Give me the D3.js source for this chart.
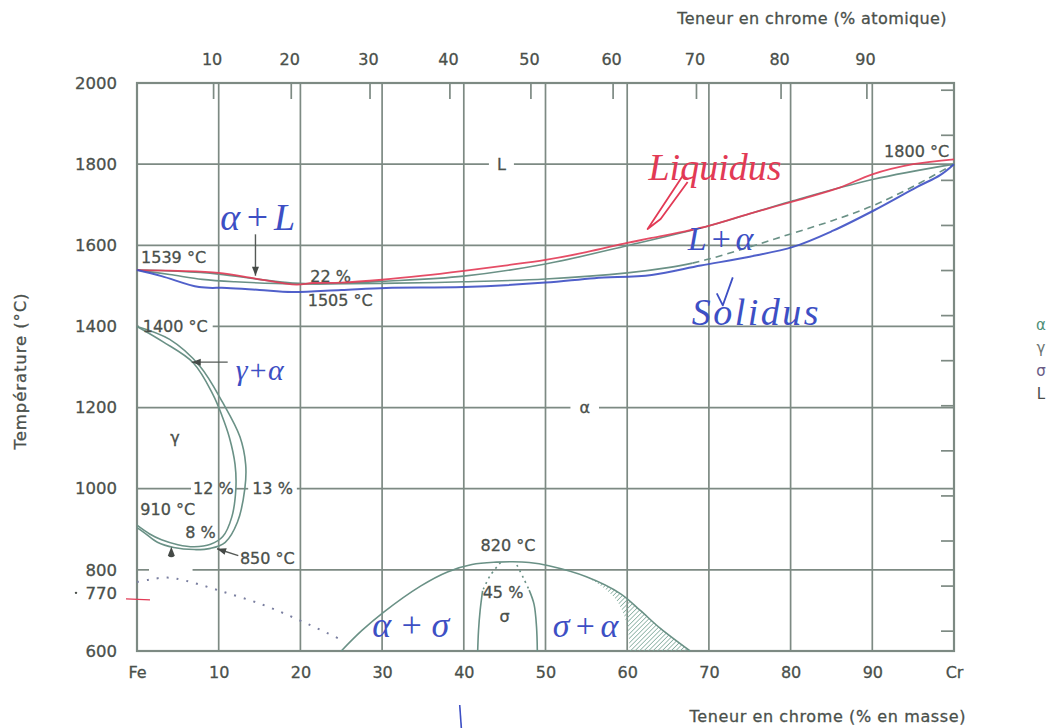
<!DOCTYPE html>
<html>
<head>
<meta charset="utf-8">
<script src="https://cdn.jsdelivr.net/npm/d3@7"></script>
<style>
  html, body { margin: 0; padding: 0; background: #ffffff; }
  svg { display: block; }
</style>
</head>
<body>
<svg id="chart" width="1055" height="728"></svg>
<script>
// ---- Axes ----------------------------------------------------------------
const massTicks = [0, 10, 20, 30, 40, 50, 60, 70, 80, 90, 100];
const massTickLabels = ["Fe", "10", "20", "30", "40", "50", "60", "70", "80", "90", "Cr"];
const atomicTicks = [10, 20, 30, 40, 50, 60, 70, 80, 90];
const tempTicks = [600, 800, 1000, 1200, 1400, 1600, 1800, 2000];
const tempGrid = [800, 1000, 1200, 1400, 1600, 1800];
const curieTick = 770;
const fahrenheitTicks = [1200, 1400, 1600, 1800, 2000, 2200, 2400, 2600, 2800, 3000, 3200, 3400, 3600];
const molarMass = { Fe: 55.85, Cr: 52.0 };

// ---- Phase boundaries (% Cr by mass, °C) -----------------------------------
const liquidus = [[0,1539],[5,1536],[10,1529],[15,1516],[19,1507],[22,1505],[26,1507],[30,1511],[40,1524],[50,1554],[60,1599],[70,1648],[80,1708],[90,1762],[100,1800]];
const solidus = [[0,1539],[4,1528],[8,1516],[12,1510],[17,1506],[22,1505],[30,1506],[40,1510],[50,1517],[60,1532],[65,1545],[68,1556]];
const solidusDashed = [[68,1556],[70,1566],[75,1596],[80,1628],[85,1660],[90,1697],[95,1745],[100,1800]];
const gammaInner = [[0,1400],[3.2,1362],[6.9,1310],[9.3,1232],[10.4,1180],[11.3,1127],[12,1060],[12.1,1000],[11.6,930],[10.5,882],[9,863],[7,857],[5,862],[3,874],[1.5,889],[0,910]];
const gammaOuter = [[0,1400],[4,1368],[7.7,1302],[10.5,1212],[12.6,1128],[13.3,1060],[13.2,1000],[12.3,918],[10.8,868],[9,853],[7,850],[4.5,855],[2.5,868],[1,890],[0,904]];
const sigmaDome = [[25,600],[27.5,650],[30.2,696],[34.7,760],[38,795],[41,813],[44,819],[46,820],[48,818],[50.4,810],[55,783],[59.2,741],[61.6,700],[64.1,655],[67.7,600]];
const hatchInner = [[55,783],[57,758],[58.5,730],[59.5,695],[60.1,652],[60.3,600]];
const sigmaLeftDotted = [[44.5,818],[43.2,785],[42.3,748]];
const sigmaLeftSolid = [[42.3,748],[42,700],[41.8,650],[41.7,600]];
const sigmaRightDotted = [[46.5,812],[47.3,780],[48,750]];
const sigmaRightSolid = [[48,750],[48.6,715],[48.9,660],[49,600]];
const curieLine = [[0,770],[1.5,776],[3.7,781],[6,773],[10.2,748],[15.4,714],[20.3,672],[25.4,624]];

// ---- Pen tracings added over the print ---------------------------------------
const liquidusInk = [[0,1539],[5,1537],[10,1532],[14.5,1518],[19.5,1503],[21.5,1507],[25,1508],[30,1515],[35,1525],[40,1537],[45,1550],[50,1564],[55,1583],[60,1606],[63,1618],[70,1648],[75,1678],[81,1712],[86,1742],[90,1775],[95,1800],[100,1812]];
const solidusInk = [[0,1539],[3,1524],[7.6,1497],[11,1495],[15,1490],[19,1485],[25,1490],[30.5,1495],[40,1497],[50,1508],[56,1519],[63,1527],[69,1550],[75,1572],[80.3,1596],[85.2,1636],[90.3,1687],[95.5,1744],[98.3,1773],[100,1800]];

// ---- Scales & styles ---------------------------------------------------------
const x = d3.scaleLinear().domain([0, 100]).range([137, 954]);
const y = d3.scaleLinear().domain([600, 2000]).range([651, 83]);
const TXT = "#4a504b", GRID = "#7d8a83", CURVE = "#6a9186", BLUE = "#3d4fc4", RED = "#e23a55";
const FONT = "'DejaVu Sans', 'Liberation Sans', sans-serif";
const INK_FONT = "'Liberation Serif', 'DejaVu Serif', serif";

const svg = d3.select("#chart");
const smooth = d3.line().x(d => x(d[0])).y(d => y(d[1])).curve(d3.curveCatmullRom.alpha(0.5));
const atomicToMass = a => 100 * a * molarMass.Cr / (a * molarMass.Cr + (100 - a) * molarMass.Fe);
const fToC = f => (f - 32) * 5 / 9;

function printed(sel, size) {
  return sel.attr("font-family", FONT).attr("font-size", size || 16).attr("fill", TXT)
    .attr("stroke", TXT).attr("stroke-width", 0.3);
}

const defs = svg.append("defs");
const hatch = defs.append("pattern").attr("id", "hatch").attr("patternUnits", "userSpaceOnUse")
  .attr("width", 3.2).attr("height", 3.2).attr("patternTransform", "rotate(45)");
hatch.append("line").attr("x1", 0).attr("y1", 0).attr("x2", 0).attr("y2", 3.2)
  .attr("stroke", "#79a596").attr("stroke-width", 1.4);

const gGrid = svg.append("g");
const gCurves = svg.append("g");
const gText = printed(svg.append("g"));
const gInk = svg.append("g");

// ---- Printed labels inside the diagram ---------------------------------------
const gapMap = {};
function addGap(t, a, b) { (gapMap[t] = gapMap[t] || []).push([a, b]); }
function label(txt, m, t, anchor, gridValue, pad) {
  const el = gText.append("text").attr("x", x(m)).attr("y", y(t))
    .attr("text-anchor", anchor || "start").attr("dominant-baseline", "central").text(txt);
  if (gridValue !== undefined) {
    const b = el.node().getBBox();
    addGap(gridValue, b.x - pad, b.x + b.width + pad);
  }
  return el;
}
label("1539 °C", 0.5, 1569);
const l1400 = label("1400 °C", 0.7, 1400);
{ const b = l1400.node().getBBox(); addGap(1400, x(0) + 2, b.x + b.width + 5); }
label("22 %", 21.2, 1524);
label("1505 °C", 20.9, 1463);
label("1800 °C", 99.4, 1830, "end");
label("L", 44.6, 1800, "middle", 1800, 8);
label("α", 54.8, 1200, "middle", 1200, 9);
label("γ", 4.65, 1127, "middle");
label("12 %", 6.85, 1000, "start", 1000, 2);
label("13 %", 14.1, 1000, "start", 1000, 4);
label("910 °C", 0.4, 948);
label("8 %", 5.9, 893);
label("850 °C", 12.6, 829);
label("820 °C", 45.4, 861, "middle");
label("45 %", 44.8, 745, "middle");
label("σ", 45, 684, "middle");
addGap(800, x(0) + 12, x(6.8));

// ---- Grid --------------------------------------------------------------------
massTicks.slice(1, -1).forEach(m => {
  gGrid.append("line").attr("x1", x(m)).attr("x2", x(m)).attr("y1", y(2000)).attr("y2", y(600))
    .attr("stroke", GRID).attr("stroke-width", 1.7);
});
tempGrid.forEach(t => {
  const gaps = (gapMap[t] || []).sort((a, b) => a[0] - b[0]);
  let start = x(0);
  const segs = [];
  gaps.forEach(([a, b]) => { if (a > start) segs.push([start, a]); start = Math.max(start, b); });
  if (start < x(100)) segs.push([start, x(100)]);
  segs.forEach(([a, b]) => gGrid.append("line").attr("x1", a).attr("x2", b).attr("y1", y(t)).attr("y2", y(t))
    .attr("stroke", GRID).attr("stroke-width", 1.7));
});
gGrid.append("rect").attr("x", x(0)).attr("y", y(2000)).attr("width", x(100) - x(0)).attr("height", y(600) - y(2000))
  .attr("fill", "none").attr("stroke", GRID).attr("stroke-width", 2.2);
// atomic-% ticks along the top edge
atomicTicks.forEach(a => {
  gGrid.append("line").attr("x1", x(atomicToMass(a))).attr("x2", x(atomicToMass(a)))
    .attr("y1", y(2000)).attr("y2", y(2000) + 16).attr("stroke", GRID).attr("stroke-width", 1.7);
});
// Fahrenheit ticks along the right edge
fahrenheitTicks.forEach(f => {
  gGrid.append("line").attr("x1", x(100) - 13).attr("x2", x(100)).attr("y1", y(fToC(f))).attr("y2", y(fToC(f)))
    .attr("stroke", GRID).attr("stroke-width", 1.7);
});

// ---- Axis labels ---------------------------------------------------------------
const axisBottom = d3.axisBottom(x).tickValues(massTicks).tickFormat((d, i) => massTickLabels[i]).tickSize(0).tickPadding(16);
svg.append("g").attr("transform", `translate(0,${y(600)})`).call(axisBottom)
  .call(g => g.select(".domain").remove())
  .call(g => printed(g.selectAll("text")));

const axisTop = d3.axisTop(d3.scaleLinear().domain([0, 100]).range([x(0), x(100)]))
  .tickValues(atomicTicks.map(atomicToMass)).tickFormat((d, i) => atomicTicks[i]).tickSize(0).tickPadding(18);
svg.append("g").attr("transform", `translate(${-2},${y(2000)})`).call(axisTop)
  .call(g => g.select(".domain").remove())
  .call(g => printed(g.selectAll("text")));

const axisLeft = d3.axisLeft(y).tickValues(tempTicks).tickFormat(d3.format("d")).tickSize(0).tickPadding(20);
svg.append("g").attr("transform", `translate(${x(0)},0)`).call(axisLeft)
  .call(g => g.select(".domain").remove())
  .call(g => printed(g.selectAll("text"), 16.5));
// Curie point label sits just under the 800 label
printed(svg.append("text"), 16.5).attr("x", x(0) - 20).attr("y", y(800) + 24).attr("text-anchor", "end")
  .attr("dominant-baseline", "central").text(curieTick);
svg.append("circle").attr("cx", x(0) - 61).attr("cy", y(800) + 23).attr("r", 1.2).attr("fill", TXT);

printed(svg.append("text")).attr("x", 947).attr("y", 18).attr("text-anchor", "end").attr("dominant-baseline", "central")
  .attr("letter-spacing", 0.4).text("Teneur en chrome (% atomique)");
printed(svg.append("text")).attr("x", 966).attr("y", 716).attr("text-anchor", "end").attr("dominant-baseline", "central")
  .attr("letter-spacing", 0.6).text("Teneur en chrome (% en masse)");
printed(svg.append("text"), 16.5).attr("transform", `translate(20,${(y(2000) + y(600)) / 2 + 4}) rotate(-90)`)
  .attr("text-anchor", "middle").attr("dominant-baseline", "central").attr("letter-spacing", 0.9)
  .text("Température (°C)");

// phase key on the right margin
[["α", "#4f8f78"], ["γ", "#6b7471"], ["σ", "#6a5c86"], ["L", "#4a4d4b"]].forEach(([s, c], i) => {
  svg.append("text").attr("x", 1041).attr("y", 325 + i * 23).attr("text-anchor", "middle")
    .attr("dominant-baseline", "central").attr("font-family", FONT).attr("font-size", 15).attr("fill", c).text(s);
});

// ---- Printed curves ---------------------------------------------------------------
const domePart = sigmaDome.filter(d => d[0] >= 55);
const hatchPath = smooth(domePart) + "L" + smooth(hatchInner.slice().reverse()).slice(1) + "Z";
gCurves.append("path").attr("d", hatchPath).attr("fill", "url(#hatch)").attr("stroke", "none");

function curve(data, opts) {
  return gCurves.append("path").attr("d", smooth(data)).attr("fill", "none")
    .attr("stroke", opts.color || CURVE).attr("stroke-width", opts.width || 1.6)
    .attr("stroke-dasharray", opts.dash || null).attr("stroke-linecap", opts.cap || "butt");
}
curve(liquidus, {});
curve(solidus, {});
curve(solidusDashed, { dash: "7,5" });
curve(gammaInner, {});
curve(gammaOuter, {});
curve(sigmaDome, {});
curve(sigmaLeftDotted, { dash: "2,4" });
curve(sigmaLeftSolid, {});
curve(sigmaRightDotted, { dash: "2,4" });
curve(sigmaRightSolid, {});
curve(curieLine, { color: "#7a7fa0", width: 2, dash: "2,8" });

// printed pointer arrows
function arrow(x1, y1, x2, y2) {
  gCurves.append("line").attr("x1", x1).attr("y1", y1).attr("x2", x2).attr("y2", y2)
    .attr("stroke", "#555a57").attr("stroke-width", 1.4);
  const ang = Math.atan2(y2 - y1, x2 - x1), L = 9, w = 3.5;
  const bx = x2 - L * Math.cos(ang), by = y2 - L * Math.sin(ang);
  gCurves.append("path").attr("fill", "#454a47")
    .attr("d", `M${x2},${y2}L${bx - w * Math.sin(ang)},${by + w * Math.cos(ang)}L${bx + w * Math.sin(ang)},${by - w * Math.cos(ang)}Z`);
}
arrow(x(14.5), y(1627), x(14.5), y(1525));   // α + L
arrow(x(11.1), y(1312), x(6.7), y(1312));    // γ + α
arrow(x(12.4), y(835), x(9.8), y(852));      // 850 °C
// small marker under the 910 °C branch
{
  const mx = x(4.2), my = y(857);
  gCurves.append("path").attr("fill", "#454a47")
    .attr("d", `M${mx},${my}L${mx + 3.5},${my + 9}Q${mx},${my + 12} ${mx - 3.5},${my + 9}Z`);
}

// ---- Pen annotations -----------------------------------------------------------------
gInk.append("path").attr("d", smooth(liquidusInk)).attr("fill", "none").attr("stroke", RED)
  .attr("stroke-width", 1.8).attr("opacity", 0.9);
gInk.append("path").attr("d", smooth(solidusInk)).attr("fill", "none").attr("stroke", BLUE)
  .attr("stroke-width", 2).attr("opacity", 0.9);

function ink(txt, m, t, color, size, spacing) {
  gInk.append("text").attr("x", x(m)).attr("y", y(t)).attr("font-family", INK_FONT)
    .attr("font-style", "italic").attr("font-size", size).attr("letter-spacing", spacing || 0)
    .attr("fill", color).text(txt);
}
ink("Liquidus", 62.6, 1761, RED, 38);
ink("α+L", 10.2, 1638, BLUE, 38, 4);
ink("γ+α", 12.1, 1268, BLUE, 30);
ink("L+α", 67.4, 1588, BLUE, 34, 3);
ink("Solidus", 67.9, 1404, BLUE, 38, 2.5);
ink("α+σ", 28.8, 635, BLUE, 36, 8);
ink("σ+α", 50.9, 635, BLUE, 34, 4);

// pen arrows and marks
{
  const tx = x(62.5), ty = y(1640);
  gInk.append("path").attr("d", `M${tx + 35},${ty - 53}L${tx},${ty}L${tx + 13},${ty - 10}L${tx + 40},${ty - 47}`)
    .attr("fill", "none").attr("stroke", RED).attr("stroke-width", 1.8).attr("stroke-linejoin", "round");
  const bx = x(71.7), by = y(1452);
  gInk.append("path").attr("d", `M${bx + 10},${by - 28}L${bx},${by}L${bx - 6},${by - 12}`)
    .attr("fill", "none").attr("stroke", BLUE).attr("stroke-width", 1.8).attr("stroke-linejoin", "round");
  gInk.append("line").attr("x1", x(0) - 11).attr("x2", x(0) + 13).attr("y1", y(800) + 29).attr("y2", y(800) + 30)
    .attr("stroke", RED).attr("stroke-width", 1.3);
  gInk.append("line").attr("x1", x(39.5)).attr("x2", x(39.7)).attr("y1", y(600) + 54).attr("y2", 728)
    .attr("stroke", BLUE).attr("stroke-width", 1.6);
}
</script>
</body>
</html>
